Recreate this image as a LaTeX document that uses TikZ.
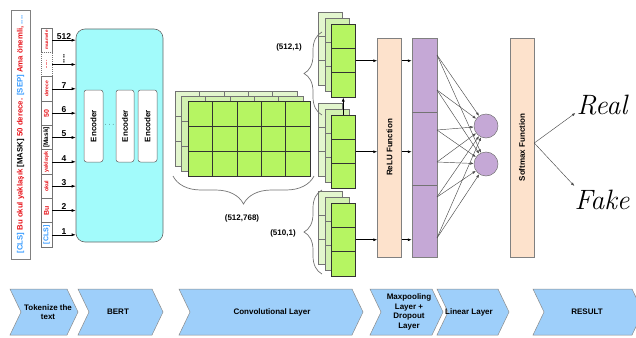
\documentclass[tikz,border=0pt]{standalone}
\usepackage{fontspec}
\setsansfont{Liberation Sans}
\usetikzlibrary{arrows.meta,decorations.pathreplacing,calc}
\definecolor{tokred}{HTML}{E8141B}
\definecolor{tokblue}{HTML}{3399FF}
\definecolor{bertcyan}{HTML}{A2FBFB}
\definecolor{lime}{HTML}{B6F562}
\definecolor{paleA}{HTML}{E3F6CE}
\definecolor{paleB}{HTML}{D2F1B0}
\definecolor{peach}{HTML}{FDE2CC}
\definecolor{lav}{HTML}{C5A8D6}
\definecolor{chevblue}{HTML}{9ECFFA}

\newcommand{\chevron}[5]{% xl, xr, text x, name, text
  \draw[chevst] (#1,289) -- (#2,289) -- (#2+11,312) -- (#2,335) -- (#1,335) -- (#1+11,312) -- cycle;
  \node[bf, align=center] (#4) at (#3,312) {#5};}
\newcommand{\biglayer}[5]{%
  \node[draw=#5, fill=#4, minimum width=122pt, minimum height=75pt, inner sep=0pt, anchor=north west, line width=0.5pt] (#1) at (#2,#3) {};
  \foreach \k in {1,2,3,4} \draw[#5, line width=0.5pt] ($(#1.north west)+(\k*24.4,0)$) -- ++(0,75);
  \foreach \k in {1,2} \draw[#5, line width=0.5pt] ($(#1.north west)+(0,\k*25)$) -- ++(122,0);}
\newcommand{\stacklayer}[5]{%
  \node[draw=#5, fill=#4, minimum width=24pt, minimum height=73pt, inner sep=0pt, anchor=north west, line width=0.5pt] (#1) at (#2,#3) {};
  \foreach \k in {1,2} \draw[#5, line width=0.5pt] ($(#1.north west)+(0,\k*24.33)$) -- ++(24,0);}
\newcommand{\convstack}[2]{%
  \stacklayer{#1a}{318}{#2}{paleA}{black!55}
  \stacklayer{#1b}{325}{#2+6}{paleB}{black!55}
  \stacklayer{#1c}{331}{#2+12}{lime}{black!80}}
\newcommand{\tok}[7]{% name, y, color, size, text, number, extra style
  \node[cell, #7] (#1) at (46.5,#2) {\rotatebox{90}{\color{#3}\sffamily\bfseries\fontsize{#4}{#4}\selectfont #5}};
  \draw[arr] (#1.east) -- (#1.east -| bert.west) node[pos=0.5, above=-0.5pt, numst] {#6};}

\begin{document}
\begin{tikzpicture}[x=1pt,y=-1pt,
  bf/.style={font=\sffamily\bfseries\fontsize{8}{9.5}\selectfont},
  numst/.style={font=\sffamily\bfseries\fontsize{8.5}{9}\selectfont, inner sep=1pt},
  arr/.style={-{Latex[length=4pt,width=3pt]}, line width=0.6pt, draw=black},
  narr/.style={-{Latex[length=3.5pt,width=2.6pt]}, line width=0.45pt, draw=black!70},
  cell/.style={draw=black!55, line width=0.5pt, fill=white, minimum width=11pt, minimum height=24.3pt, inner sep=0pt},
  encbox/.style={draw=black!60, fill=white, rounded corners=2.5pt, minimum height=72pt, inner sep=0pt, line width=0.5pt},
  colbox/.style={draw=black!50, line width=0.5pt, minimum height=219pt, minimum width=24pt, inner sep=0pt},
  brc/.style={decorate, draw=black!55, line width=0.7pt},
  chevst/.style={fill=chevblue, draw=black!45, line width=0.5pt},
  neuron/.style={circle, draw=black!55, fill=lav, minimum size=24pt, inner sep=0pt, line width=0.5pt},
]
\useasboundingbox (0,0) rectangle (636,337);

% bottom stage arrows
\chevron{10}{67}{48}{c1}{Tokenize the\\text}
\chevron{78}{152}{118}{c2}{BERT}
\chevron{179}{352}{272}{c3}{Convolutional Layer}
\chevron{370}{432}{409}{c4}{Maxpooling\\Layer +\\Dropout\\Layer}
\chevron{437}{498}{469}{c5}{Linear Layer}
\chevron{533}{632}{587}{c6}{RESULT}

% sentence
\node[draw=black!50, line width=0.5pt, minimum width=19pt, minimum height=249pt, inner sep=0pt] (sent) at (20.5,134.5)
  {\rotatebox{90}{\resizebox{238pt}{!}{\sffamily\bfseries\textcolor{tokblue}{[CLS]} \textcolor{tokred}{Bu okul yaklaşık} [MASK] \textcolor{tokred}{50 derece.} \textcolor{tokblue}{[SEP]} \textcolor{tokred}{Ama önemli,} \textcolor{tokblue}{....}}}};

% BERT
\node[draw=black!60, fill=bertcyan, rounded corners=9pt, minimum width=87pt, minimum height=213pt, inner sep=0pt, line width=0.6pt] (bert) at (119.5,135.5) {};
\node[encbox, minimum width=19pt] (e1) at (93.5,126) {\rotatebox{90}{\sffamily\bfseries\fontsize{8}{9}\selectfont Encoder}};
\node[encbox, minimum width=18pt] (e2) at (125,126) {\rotatebox{90}{\sffamily\bfseries\fontsize{8}{9}\selectfont Encoder}};
\node[encbox, minimum width=19pt] (e3) at (147.5,126) {\rotatebox{90}{\sffamily\bfseries\fontsize{8}{9}\selectfont Encoder}};
\node[inner sep=0pt, font=\fontsize{7}{7}\selectfont] (edots) at (109.5,125) {$\cdots$};

% tokens
\tok{t1}{40.2}{tokred}{4.5}{muamele}{512}{}
\tok{t2}{64.5}{tokred}{5}{......}{\rotatebox{90}{....}}{dash pattern=on 1pt off 1pt}
\tok{t3}{88.8}{tokred}{5}{derece}{7}{}
\tok{t4}{113.2}{tokred}{7}{50}{6}{}
\tok{t5}{137.5}{black}{6.5}{[Mask]}{5}{}
\tok{t6}{161.8}{tokred}{5.5}{yaklaşık}{4}{}
\tok{t7}{186.2}{tokred}{5.5}{okul}{3}{}
\tok{t8}{210.5}{tokred}{7}{Bu}{2}{}
\tok{t9}{234.8}{tokblue}{7}{[CLS]}{1}{}

% big conv block
\biglayer{ba}{175}{91}{paleA}{black!55}
\biglayer{bb}{181}{96}{paleB}{black!55}
\biglayer{bc}{188}{101}{lime}{black!80}
\draw[brc, decoration={brace, amplitude=28pt}] (314,176) -- (173,176);
\node[bf] (lbig) at (242,218) {(512,768)};

% small stacks
\convstack{s1}{12}
\convstack{s2}{103}
\convstack{s3}{191}
\draw[arr] (s2c.north) -- (s1c.south);
\draw[brc, decoration={brace, amplitude=18pt}] (322,115) -- (322,32);
\draw[brc, decoration={brace, amplitude=18pt}] (322,274) -- (322,190);
\node[bf] (l1) at (289,47) {(512,1)};
\node[bf] (l3) at (283,233) {(510,1)};

% ReLU, linear
\node[colbox, fill=peach] (relu) at (389.5,147.5) {\rotatebox{90}{\sffamily\bfseries\fontsize{8}{9}\selectfont ReLU Function}};
\node[colbox, fill=lav, minimum width=25pt] (pur) at (424.5,147.5) {};
\draw[black!55, line width=0.5pt] ($(pur.north west)+(0,74)$) -- ++(25,0);
\draw[black!55, line width=0.5pt] ($(pur.north west)+(0,147)$) -- ++(25,0);
\foreach \s in {s1,s2,s3} {
  \draw[arr] (\s c.east) -- (\s c.east -| relu.west);
  \draw[arr] (\s c.east -| relu.east) -- (\s c.east -| pur.west);
}

% neurons
\node[neuron] (n1) at (486,126) {};
\node[neuron] (n2) at (486,164) {};
\foreach \yy [count=\n] in {55,90,130,162,197,238} {
  \coordinate (p\n) at (437,\yy);
  \draw[narr] (p\n) -- (n1);
  \draw[narr] (p\n) -- (n2);
}

% softmax
\node[colbox, fill=peach] (sm) at (522,147.5) {\rotatebox{90}{\sffamily\bfseries\fontsize{8}{9}\selectfont Softmax Function}};
\coordinate (smo) at ($(sm.east)+(0,-4.5)$);
\node[inner sep=2pt, font=\rmfamily\itshape\fontsize{28}{28}\selectfont] (real) at (602,105) {Real};
\node[inner sep=2pt, font=\rmfamily\itshape\fontsize{28}{28}\selectfont] (fake) at (602,200) {Fake};
\draw[narr] (smo) -- ($(real.west)+(1,8)$);
\draw[narr] (smo) -- ($(fake.west)+(2,-14)$);
\end{tikzpicture}
\end{document}
